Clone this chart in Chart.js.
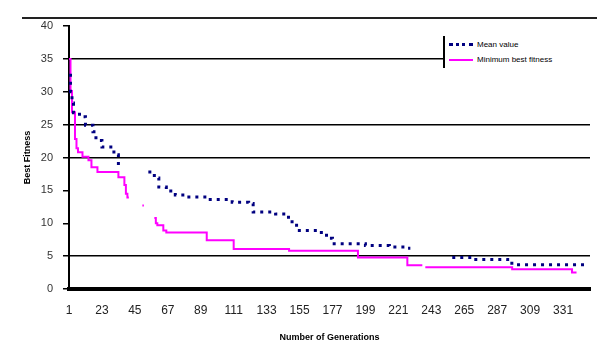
<!DOCTYPE html>
<html>
<head>
<meta charset="utf-8">
<script src="https://cdn.jsdelivr.net/npm/chart.js@4/dist/chart.umd.min.js"></script>
<style>
  body { margin: 0; background: #fff; }
  #wrap {
    position: relative; width: 597px; height: 343px;
    background: linear-gradient(#222, #222) no-repeat 22px 17px / 575px 2px;
  }
  #myChart { display: block; }
  #legend {
    position: absolute; left: 443px; top: 36px; width: 154px; height: 32px;
    background: #fff; border-left: 2px solid #000;
    font: 8px "Liberation Sans", Arial, sans-serif; color: #000;
  }
  .row { position: absolute; left: 4px; height: 10px; line-height: 10px; white-space: nowrap; }
  .sw { display: inline-block; width: 24px; vertical-align: middle; margin-right: 4px; }
</style>
</head>
<body>
<div id="wrap">
  <canvas id="myChart" width="597" height="343"></canvas>
  <div id="legend">
    <div class="row" style="top:4px"><span class="sw" style="border-top:3px dotted #000080"></span>Mean value</div>
    <div class="row" style="top:19px"><span class="sw" style="border-top:2px solid #ff00ff"></span>Minimum best fitness</div>
  </div>
</div>
<script>
// generations where the value changes, and the value from there on
var blueGen = [1, 2, 3, 4, 8, 12, 17, 19, 23, 31, 34, 37, 38, 54, 58, 61, 66, 72, 80, 94, 110, 121, 124, 139, 146, 150, 153, 168, 173, 177, 199, 215, 226, 229, 230, 257, 270, 294, 300, 345]
var blueVal = [32.5, 30, 28.3, 26.8, 26.2, 24.9, 23.9, 22.6, 21.6, 20.4, 19.1, 19.1, null, 17.8, 16.9, 15.5, 14.9, 14.3, 14.0, 13.6, 13.2, 13.0, 11.7, 11.4, 10.9, 9.7, 8.9, 8.6, 7.7, 6.9, 6.6, 6.4, 6.2, 6.2, null, 4.8, 4.5, 3.9, 3.7, 3.7]

var magGen = [1, 2, 3, 5, 6, 7, 10, 14, 16, 20, 34, 38, 39, 40, 41, 42, 50, 51, 52, 58, 59, 60, 64, 66, 93, 111, 148, 194, 226, 227, 237, 238, 239, 297, 337, 340]
var magVal = [35, 30.1, 26.9, 22.8, 21.4, 20.8, 20.1, 19.6, 18.5, 17.8, 17.0, 15.8, 14.5, 13.9, 13.9, null, 12.7, 12.7, null, 10.8, 10.0, 9.7, 8.9, 8.6, 7.4, 6.1, 5.8, 4.8, 4.8, 3.6, 3.6, null, 3.3, 3.0, 2.5, 2.5]

var xTicks = [1, 23, 45, 67, 89, 111, 133, 155, 177, 199, 221, 243, 265, 287, 309, 331]
var gridAt = [5, 20, 25, 35]

function pontos(g, v) {
    return g.map(function (x, i) { return { x: x, y: v[i] } })
}

var ctx = document.getElementById('myChart').getContext('2d')
var grafico = new Chart(ctx, {
    type: 'line',
    data: {
        datasets: [{
            label: 'Mean value',
            data: pontos(blueGen, blueVal),
            borderColor: '#000080',
            borderWidth: 3,
            borderDash: [3, 5],
            stepped: true,
            pointRadius: 0,
            spanGaps: false
        }, {
            label: 'Minimum best fitness',
            data: pontos(magGen, magVal),
            borderColor: '#ff00ff',
            borderWidth: 2,
            stepped: true,
            pointRadius: 0,
            spanGaps: false
        }]
    },
    options: {
        responsive: false,
        animation: false,
        layout: { padding: { top: 26, right: 7, left: 22, bottom: 0 } },
        plugins: { legend: { display: false }, tooltip: { enabled: false } },
        scales: {
            x: {
                type: 'linear',
                min: 1,
                max: 349,
                afterBuildTicks: function (s) {
                    s.ticks = xTicks.map(function (v) { return { value: v } })
                },
                afterFit: function (s) { s.height = 54 },
                grid: { drawOnChartArea: false, drawTicks: false },
                border: { display: true, color: '#000', width: 4, dash: [3, 2] },
                ticks: {
                    autoSkip: false,
                    maxRotation: 0,
                    padding: 14,
                    color: '#222',
                    font: { family: 'Liberation Sans, Arial, sans-serif', size: 12 }
                },
                title: {
                    display: true,
                    text: 'Number of Generations',
                    color: '#000',
                    padding: { top: 4, bottom: 0 },
                    font: { family: 'Liberation Sans, Arial, sans-serif', size: 9, weight: 'bold' }
                }
            },
            y: {
                min: 0,
                max: 40,
                afterFit: function (s) { s.width = 47 },
                ticks: {
                    stepSize: 5,
                    padding: 10,
                    color: '#333',
                    font: { family: 'Liberation Sans, Arial, sans-serif', size: 11 }
                },
                grid: {
                    color: function (c) {
                        return gridAt.indexOf(c.tick.value) >= 0 ? '#000' : 'rgba(0,0,0,0)'
                    },
                    lineWidth: 1.5,
                    tickColor: '#000',
                    tickLength: 6
                },
                border: { color: '#000', width: 2 },
                title: {
                    display: true,
                    text: 'Best Fitness',
                    color: '#000',
                    padding: { top: 0, bottom: 0 },
                    font: { family: 'Liberation Sans, Arial, sans-serif', size: 9, weight: 'bold' }
                }
            }
        }
    }
})
</script>
</body>
</html>
